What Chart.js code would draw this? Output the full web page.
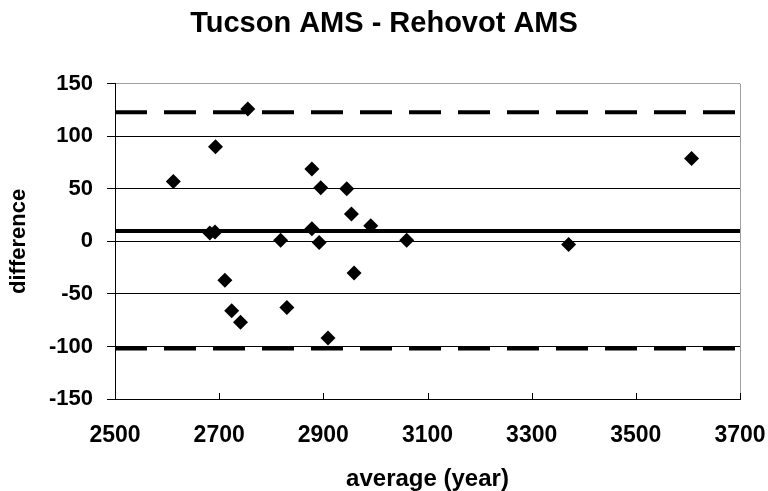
<!DOCTYPE html>
<html><head><meta charset="utf-8">
<script src="https://cdn.jsdelivr.net/npm/chart.js@4"></script>
<style>html,body{margin:0;padding:0;background:#fff;}</style>
</head><body>
<canvas id="c" width="768" height="491"></canvas>
<script>
const averages    = [2612, 2693, 2755, 2682, 2692, 2818, 2878, 2895, 2945, 2954, 2878, 2892, 2991, 3060, 2959, 2711, 2724, 2741, 2830, 2909, 3371, 3607];
const differences = [57,   90,   126,  8,    9,    1,    69,   51,   50,   26,   12,   -1,   15,   1,    -30,  -37,  -66,  -77,  -63,  -92,  -3,   79];
const meanDiff   = 10;
const upperLimit = 123;
const lowerLimit = -102;
const xTicks = [2500, 2700, 2900, 3100, 3300, 3500, 3700];
const yTicks = [-150, -100, -50, 0, 50, 100, 150];

const FONT = '"Liberation Sans", Arial, sans-serif';
Chart.defaults.font.family = FONT;
Chart.defaults.color = '#000';

const xMin = xTicks[0], xMax = xTicks[xTicks.length - 1];
const yMin = yTicks[0], yMax = yTicks[yTicks.length - 1];

const points = averages.map((a, i) => ({x: a, y: differences[i]}));
const hLine = v => [{x: xMin, y: v}, {x: xMax, y: v}];

const innerTicks = {
  id: 'innerTicks',
  afterDraw(chart) {
    const ctx = chart.ctx, xs = chart.scales.x;
    const b = chart.chartArea.bottom;
    ctx.save();
    ctx.strokeStyle = '#000';
    ctx.lineWidth = 1;
    ctx.beginPath();
    xTicks.forEach(v => {
      const px = Math.round(xs.getPixelForValue(v)) + 0.5;
      ctx.moveTo(px, b);
      ctx.lineTo(px, b - 6);
    });
    ctx.stroke();
    ctx.restore();
  }
};

new Chart(document.getElementById('c'), {
  type: 'scatter',
  data: {
    datasets: [
      { data: points, pointStyle: 'rectRot', pointRadius: 7.5, pointHoverRadius: 7.5,
        backgroundColor: '#000', borderColor: '#000', borderWidth: 0, showLine: false, order: 0 },
      { type: 'line', data: hLine(meanDiff), borderColor: '#000', borderWidth: 4, pointRadius: 0, fill: false, order: 1 },
      { type: 'line', data: hLine(upperLimit), borderColor: '#000', borderWidth: 4, borderDash: [32, 17], pointRadius: 0, fill: false, order: 1 },
      { type: 'line', data: hLine(lowerLimit), borderColor: '#000', borderWidth: 4, borderDash: [32, 17], pointRadius: 0, fill: false, order: 1 }
    ]
  },
  options: {
    responsive: false,
    animation: false,
    devicePixelRatio: 1,
    layout: { padding: { left: 0, right: 0, top: 0, bottom: 0 } },
    plugins: {
      legend: { display: false },
      tooltip: { enabled: false },
      title: {
        display: true,
        text: 'Tucson AMS - Rehovot AMS',
        font: { family: FONT, size: 29, weight: 'bold', lineHeight: 1.2 },
        color: '#000',
        padding: { top: 7, bottom: 42 }
      }
    },
    scales: {
      x: {
        type: 'linear', min: xMin, max: xMax,
        afterBuildTicks: s => { s.ticks = xTicks.map(v => ({value: v})); },
        afterFit: s => { s.height = 92; s.paddingRight = 28; },
        ticks: { font: { family: FONT, size: 23, weight: 'bold' }, color: '#000', padding: 0, maxRotation: 0,
                 callback: v => String(v) },
        grid: {
          drawTicks: true, tickLength: 23, tickColor: 'rgba(0,0,0,0)',
          color: c => (c.tick && c.tick.value === xMax) ? '#a0a0a0' : 'rgba(0,0,0,0)',
          lineWidth: 1
        },
        border: { display: true, color: '#000', width: 1 },
        title: { display: true, text: 'average (year)', font: { family: FONT, size: 24, weight: 'bold', lineHeight: 1 }, color: '#000', padding: { top: 0, bottom: 0 } }
      },
      y: {
        type: 'linear', min: yMin, max: yMax,
        afterBuildTicks: s => { s.ticks = yTicks.map(v => ({value: v})); },
        afterFit: s => { s.width = 115; },
        ticks: { font: { family: FONT, size: 22, weight: 'bold' }, color: '#000', padding: 14,
                 callback: v => String(v) },
        grid: {
          color: c => (c.tick && c.tick.value === yMax) ? '#a0a0a0' : '#000',
          tickColor: '#000', tickLength: 8, lineWidth: 1
        },
        border: { display: true, color: '#000', width: 1 },
        title: { display: true, text: 'difference', font: { family: FONT, size: 22, weight: 'bold', lineHeight: 1.2 }, color: '#000', padding: { top: 6, bottom: 0 } }
      }
    }
  },
  plugins: [innerTicks]
});
</script>
</body></html>
